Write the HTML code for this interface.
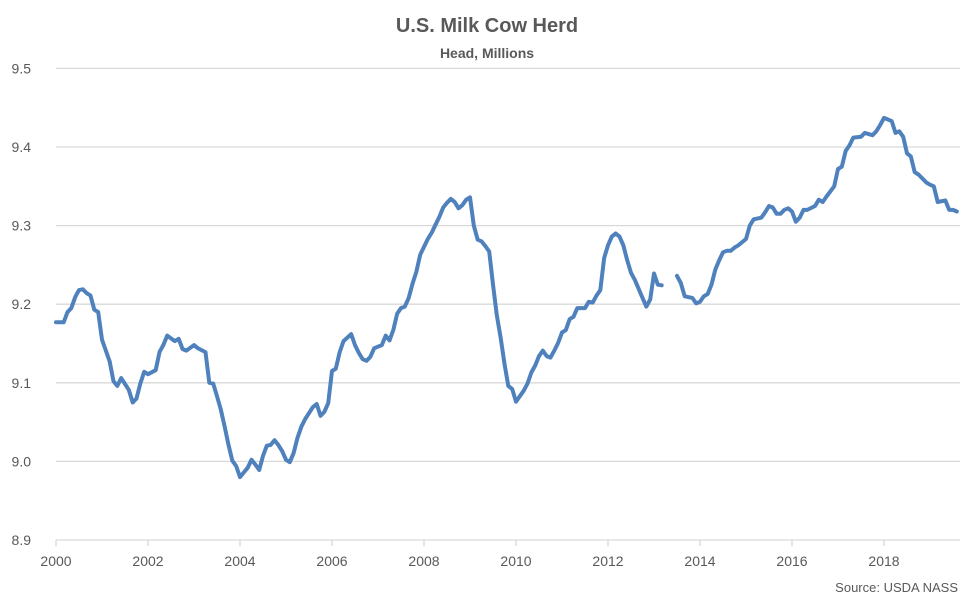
<!DOCTYPE html>
<html><head><meta charset="utf-8"><style>
body{margin:0;background:#fff;}
svg{display:block;font-family:"Liberation Sans",sans-serif;}
</style></head><body>
<svg width="974" height="601">
<text x="487" y="32" text-anchor="middle" font-size="20" font-weight="bold" fill="#595959">U.S. Milk Cow Herd</text>
<text x="487" y="58" text-anchor="middle" font-size="14" font-weight="bold" fill="#595959">Head, Millions</text>
<g id="grid"></g><g id="yaxis"></g><g id="xaxis"></g><g id="series"></g>
<text x="958" y="592" text-anchor="end" font-size="13" fill="#595959">Source: USDA NASS</text>
</svg>
<script>
const yTicks=[8.9,9.0,9.1,9.2,9.3,9.4,9.5];
const yTickLabels=["8.9","9.0","9.1","9.2","9.3","9.4","9.5"];
const xTicks=[2000,2002,2004,2006,2008,2010,2012,2014,2016,2018];
const months=[0,2,3,4,5,6,7,8,9,10,11,12,14,15,16,17,19,20,21,22,23,24,26,27,28,29,31,32,33,34,36,37,39,40,41,42,43,44,45,46,47,48,50,51,52,53,54,55,56,57,58,59,60,61,62,63,64,65,67,68,69,70,71,72,73,74,75,77,78,79,80,81,82,83,85,86,87,88,89,90,91,92,93,94,95,97,98,99,100,101,102,103,104,105,106,107,108,109,110,111,112,113,114,115,116,117,118,119,120,121,122,123,124,125,126,127,128,129,130,131,132,133,134,135,136,138,139,140,141,142,143,144,145,146,147,148,149,150,151,153,154,155,156,157,158,162,163,164,166,167,168,169,170,171,172,173,174,175,176,177,178,180,181,182,184,185,186,187,188,189,190,191,192,193,194,195,196,198,199,200,201,203,204,205,206,207,208,210,211,213,214,215,216,218,219,220,221,222,223,224,225,227,228,229,230,232,233,234,235];
const values=[9.177,9.177,9.19,9.195,9.209,9.218,9.219,9.214,9.211,9.193,9.19,9.155,9.127,9.102,9.096,9.106,9.091,9.075,9.08,9.099,9.114,9.111,9.116,9.139,9.148,9.16,9.153,9.156,9.143,9.141,9.148,9.144,9.139,9.1,9.099,9.083,9.066,9.044,9.021,9.001,8.994,8.98,8.992,9.002,8.996,8.989,9.007,9.02,9.021,9.027,9.021,9.013,9.002,8.999,9.011,9.03,9.044,9.054,9.069,9.073,9.058,9.063,9.074,9.115,9.118,9.139,9.153,9.162,9.148,9.138,9.13,9.128,9.133,9.144,9.148,9.16,9.154,9.167,9.188,9.195,9.197,9.208,9.226,9.241,9.263,9.283,9.291,9.301,9.311,9.323,9.329,9.334,9.33,9.322,9.326,9.333,9.336,9.3,9.282,9.28,9.274,9.267,9.225,9.186,9.157,9.124,9.096,9.092,9.076,9.083,9.09,9.099,9.113,9.122,9.134,9.141,9.134,9.132,9.141,9.151,9.164,9.167,9.181,9.184,9.195,9.195,9.203,9.202,9.211,9.218,9.259,9.275,9.286,9.29,9.286,9.275,9.256,9.24,9.231,9.208,9.197,9.206,9.239,9.225,9.224,9.236,9.227,9.21,9.208,9.201,9.203,9.21,9.213,9.225,9.244,9.256,9.266,9.268,9.268,9.272,9.275,9.283,9.3,9.308,9.31,9.317,9.325,9.323,9.315,9.315,9.32,9.322,9.318,9.305,9.31,9.32,9.32,9.325,9.333,9.33,9.337,9.35,9.372,9.375,9.395,9.402,9.412,9.413,9.418,9.415,9.42,9.428,9.437,9.433,9.418,9.42,9.413,9.392,9.388,9.368,9.365,9.355,9.352,9.35,9.33,9.332,9.32,9.32,9.318];
const NS="http://www.w3.org/2000/svg";
const X0=56,PX_PER_YEAR=46,Y0=540,PX_PER_UNIT=786,YMIN=8.9,XR=960;
function xScale(yr){return X0+(yr-2000)*PX_PER_YEAR;}
function yScale(v){return Y0-(v-YMIN)*PX_PER_UNIT;}
function mk(tag,attrs,parent){const e=document.createElementNS(NS,tag);for(const k in attrs)e.setAttribute(k,attrs[k]);parent.appendChild(e);return e;}
const grid=document.getElementById('grid'),ya=document.getElementById('yaxis'),xa=document.getElementById('xaxis'),se=document.getElementById('series');
yTicks.forEach((t,i)=>{
  const y=yScale(t);
  const l=mk('line',{x1:X0,x2:XR,y1:y,y2:y,stroke:'#d9d9d9','stroke-width':1.3},grid);
  
  
  const tx=mk('text',{x:31,y:y+5,'text-anchor':'end','font-size':14,fill:'#595959'},ya);
  tx.textContent=yTickLabels[i];
  
  
});
xTicks.forEach(t=>{
  const x=xScale(t);
  const tk=mk('line',{x1:x,x2:x,y1:Y0,y2:Y0+6,stroke:'#d9d9d9','stroke-width':1.3},xa);
  
  
  const tx=mk('text',{x:x,y:Y0+26,'text-anchor':'middle','font-size':14,fill:'#595959'},xa);
  tx.textContent=String(t);
  
  
});
let segs=[],cur=[];
months.forEach((m,i)=>{
  if(i>0&&m-months[i-1]>2){segs.push(cur);cur=[];}
  cur.push([xScale(2000+m/12),yScale(values[i])]);
});
segs.push(cur);
segs.forEach(s=>{
  const p=mk('path',{d:'M'+s.map(q=>q[0].toFixed(1)+','+q[1].toFixed(1)).join('L'),fill:'none',stroke:'#4f81bd','stroke-width':4,'stroke-linejoin':'round','stroke-linecap':'round'},se);
  
  
});
</script>
</body></html>
